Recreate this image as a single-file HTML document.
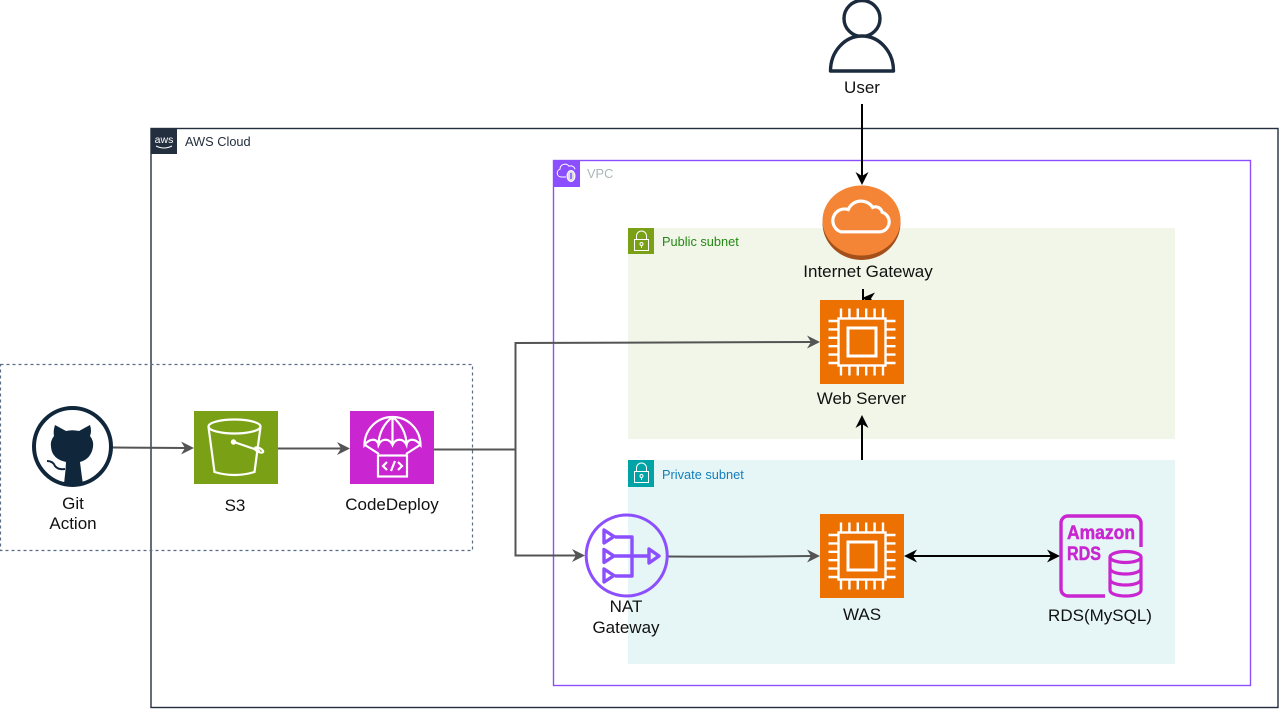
<!DOCTYPE html>
<html><head><meta charset="utf-8"><style>
html,body{margin:0;padding:0;background:#fff;width:1280px;height:712px;overflow:hidden}
svg{display:block}
text{font-family:"Liberation Sans",Arial,sans-serif}
.l{font-size:17px;fill:#111;text-anchor:middle}
.s{font-size:12.800px}
</style></head><body>
<svg width="1280" height="712" viewBox="0 0 1280 712" xmlns="http://www.w3.org/2000/svg">
<defs>
<g id="chip" fill="none" stroke="#fff" stroke-width="2.400">
<rect x="18.500" y="18.500" width="47" height="47"/>
<rect x="28" y="28" width="28" height="28" stroke-width="3"/>
<path d="M21 8.500v10M29.400 8.500v10M37.800 8.500v10M46.200 8.500v10M54.600 8.500v10M63 8.500v10M21 65.500v10M29.400 65.500v10M37.800 65.500v10M46.200 65.500v10M54.600 65.500v10M63 65.500v10M8.500 21h10M8.500 29.400h10M8.500 37.800h10M8.500 46.200h10M8.500 54.600h10M8.500 63h10M65.500 21h10M65.500 29.400h10M65.500 37.800h10M65.500 46.200h10M65.500 54.600h10M65.500 63h10"/>
</g>
<g id="lock" fill="none" stroke="#fff" stroke-width="1">
<rect x="6.500" y="11.500" width="14" height="11"/>
<path d="M8.500 11.500v-3.500a5 5 0 0 1 10 0v3.500"/>
<circle cx="13.500" cy="16" r="1.500"/><path d="M13.500 17.500v2.500"/>
</g>
</defs>
<rect width="1280" height="712" fill="#fff"/>

<!-- AWS Cloud -->
<rect x="151" y="128.500" width="1127" height="579" fill="none" stroke="#232F3E" stroke-width="1.400"/>
<rect x="151" y="128" width="26" height="26" fill="#232F3E"/>
<text x="164" y="143" text-anchor="middle" style="font-size:10.500px" fill="#fff">aws</text>
<path d="M156 146q8 4 16 0" fill="none" stroke="#fff" stroke-width="1"/>
<text x="185" y="146" class="s" fill="#232F3E">AWS Cloud</text>

<!-- VPC -->
<rect x="553.500" y="160.500" width="697" height="525" fill="none" stroke="#8C4FFF" stroke-width="1.400"/>
<rect x="553" y="160" width="27" height="27" fill="#8C4FFF"/>
<path d="M566 177h-5a4 4 0 0 1-1-7.800a5 5 0 0 1 9-3a4.500 4.500 0 0 1 6 3" fill="none" stroke="#fff" stroke-width="1"/>
<ellipse cx="571" cy="176" rx="4" ry="5.500" fill="#ddd" stroke="#fff"/><path d="M571 173v6" stroke="#8C4FFF" stroke-width="1.500"/>
<text x="587" y="178" class="s" fill="#AAB7B8">VPC</text>

<!-- Public subnet -->
<rect x="628" y="228" width="547" height="211" fill="#F2F6E8"/>
<rect x="628" y="228" width="26" height="26" fill="#7AA116"/>
<use href="#lock" x="628" y="228"/>
<text x="662" y="246" class="s" fill="#248814">Public subnet</text>

<!-- Private subnet -->
<rect x="628" y="460" width="547" height="204" fill="#E6F6F7"/>
<rect x="628" y="460" width="26" height="27" fill="#00A4A6"/>
<use href="#lock" x="628" y="460"/>
<text x="662" y="479" class="s" fill="#147EBA">Private subnet</text>

<!-- dashed -->
<rect x="0.500" y="364.500" width="472" height="186" fill="none" stroke="#5A6C86" stroke-width="1.200" stroke-dasharray="3 3"/>

<!-- connectors gray -->
<g fill="none" stroke="#545454" stroke-width="2">
<path d="M113 447.500L187 448"/>
<path d="M278 448.500H343"/>
<path d="M434 449.500H515.500V343L813 342"/>
<path d="M515.500 449V555.500H578"/>
<path d="M667 556.500Q740 557 813 556"/>
</g>
<g fill="#545454">
<path d="M194 448L181 441.500L185 448L181 454.500Z"/>
<path d="M350 448.500L337 442L341 448.500L337 455Z"/>
<path d="M820 342L807 335.500L811 342L807 348.500Z"/>
<path d="M585 555.500L572 549L576 555.500L572 562Z"/>
<path d="M820 556L807 549.500L811 556L807 562.500Z"/>
</g>

<!-- connectors black -->
<g fill="none" stroke="#000" stroke-width="2">
<path d="M862 104V178"/>
<path d="M863 289V303"/>
<path d="M862 460V422"/>
<path d="M911 556H1053"/>
</g>
<g fill="#000">
<path d="M862 185L855.500 172L862 176L868.500 172Z"/>
<path d="M862 298L875 292.500L871 298.500L875 305.500Z"/>
<path d="M862 415L855.500 428L862 424L868.500 428Z"/>
<path d="M904 556L917 549.500L913 556L917 562.500Z"/>
<path d="M1060 556L1047 549.500L1051 556L1047 562.500Z"/>
</g>

<!-- User -->
<g fill="none" stroke="#1B2A3D" stroke-width="3.400">
<circle cx="862" cy="18.500" r="18"/>
<path d="M830.500 71a31.500 35 0 0 1 63 0Z" fill="#fff" stroke-linejoin="round"/>
</g>
<text x="862" y="93" class="l">User</text>

<!-- IGW -->
<ellipse cx="861.500" cy="223" rx="39" ry="37" fill="#A3501A"/>
<ellipse cx="861.500" cy="220.500" rx="39" ry="35" fill="#F58536"/>
<path transform="translate(861 217) scale(1.060) translate(-861 -217)" d="M842 231h37a9.500 9.500 0 0 0 2-18.500a6.500 6.500 0 0 0-9-4.500a13 13 0 0 0-23 2a11 11 0 0 0-7 21Z" fill="none" stroke="#fff" stroke-width="3"/>
<text x="868" y="277" class="l">Internet Gateway</text>

<!-- Web server -->
<rect x="820" y="300" width="84" height="84" fill="#ED7100"/>
<use href="#chip" x="820" y="300"/>
<text x="861.500" y="404" class="l">Web Server</text>

<!-- WAS -->
<rect x="820" y="514" width="84" height="84" fill="#ED7100"/>
<use href="#chip" x="820" y="514"/>
<text x="862" y="620" class="l">WAS</text>

<!-- GitHub -->
<circle cx="72.500" cy="446.500" r="38.500" fill="#fff" stroke="#10263B" stroke-width="4"/>
<path d="M55 425L66 431Q72 429.500 79 431L90 425Q92 431 90 436Q94 441 93 447Q91 459 80 462L81 470Q82 478 83 484Q73 487 64 484L65.500 470L66 462Q52 459 51 447Q50 441 54 436Q53 431 55 425Z" fill="#10263B"/>
<path d="M47 461Q53 461 55 466Q58 470 65 469" fill="none" stroke="#10263B" stroke-width="2"/>
<text x="73" y="509" class="l">Git</text>
<text x="73" y="529" class="l">Action</text>

<!-- S3 -->
<rect x="194" y="411" width="84" height="73" fill="#7AA116"/>
<g fill="none" stroke="#fff" stroke-width="2.200">
<ellipse cx="234.500" cy="426.500" rx="26" ry="7"/>
<path d="M208.500 427l6 45q20 6 40 0l6-45"/>
<path d="M234 442l26 9"/>
<ellipse cx="259" cy="450" rx="4.500" ry="2" transform="rotate(25 259 450)"/>
<circle cx="233.500" cy="442" r="1.600" fill="#fff"/>
</g>
<text x="235" y="511" class="l">S3</text>

<!-- CodeDeploy -->
<rect x="350" y="411" width="84" height="73" fill="#C925D1"/>
<g fill="none" stroke="#fff" stroke-width="2.200">
<path d="M392.500 417c-16 0-28 13-28 28c5-7 13-7 14 0c3-7 11-7 14 0c3-7 11-7 14 0c1-7 9-7 14 0c0-15-12-28-28-28Z"/>
<path d="M392.500 417c-8 6-14 16-14 28M392.500 417c8 6 14 16 14 28M392.500 417v28"/>
<path d="M365 445l14 9M420 445l-14 9"/>
<rect x="378" y="455.500" width="29" height="21"/>
<path d="M387 462l-4 4l4 4M398 462l4 4l-4 4M395 461l-4 10"/>
</g>
<text x="392" y="510" class="l">CodeDeploy</text>

<!-- NAT -->
<circle cx="626.700" cy="555.500" r="40.500" fill="none" stroke="#8C4FFF" stroke-width="3"/>
<g fill="none" stroke="#8C4FFF" stroke-width="3.400" stroke-linejoin="round">
<path d="M604 530l10 6.500l-10 6.500Z"/>
<path d="M604 549.500l10 6.500l-10 6.500Z"/>
<path d="M604 569l10 6.500l-10 6.500Z"/>
<path d="M649 549l10 7l-10 7Z"/>
<path d="M615 537h17v39H615M615 556h34"/>
</g>
<text x="626" y="612" class="l">NAT</text>
<text x="626" y="633" class="l">Gateway</text>

<!-- RDS -->
<path d="M1105 596h-37a7 7 0 0 1-7-7v-66a7 7 0 0 1 7-7h66a7 7 0 0 1 7 7v24" fill="none" stroke="#C925D1" stroke-width="3.400"/>
<text x="1067" y="539" style="font-size:19.500px;font-weight:bold" fill="#C925D1" stroke="#C925D1" stroke-width=".5" textLength="68" lengthAdjust="spacingAndGlyphs">Amazon</text>
<text x="1067" y="560" style="font-size:19.500px;font-weight:bold" fill="#C925D1" stroke="#C925D1" stroke-width=".5" textLength="34" lengthAdjust="spacingAndGlyphs">RDS</text>
<g fill="none" stroke="#C925D1" stroke-width="3.200">
<ellipse cx="1125.500" cy="557" rx="15.500" ry="5.500"/>
<path d="M1110 557v33c0 8 31 8 31 0v-33"/>
<path d="M1110 568c0 8 31 8 31 0M1110 579c0 8 31 8 31 0"/>
</g>
<text x="1100" y="621" class="l">RDS(MySQL)</text>
</svg>
</body></html>
